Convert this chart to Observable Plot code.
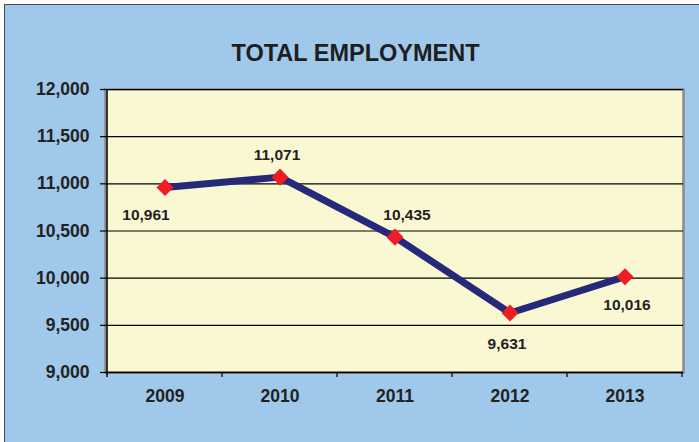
<!DOCTYPE html>
<html>
<head>
<meta charset="utf-8">
<script src="https://cdn.jsdelivr.net/npm/d3@7"></script>
<script src="https://cdn.jsdelivr.net/npm/@observablehq/plot@0.6"></script>
<style>
  html, body { margin: 0; padding: 0; background: #ffffff; width: 699px; height: 442px; overflow: hidden; }
  #chart { position: absolute; left: 4px; top: 4px; width: 694px; height: 437px;
           background: #9FC8EA; border-top: 1px solid #4a4a4a; border-left: 1px solid #4a4a4a; }
  #chart svg { display: block; }
</style>
</head>
<body>
<div id="chart"></div>
<script>
const years = ["2009", "2010", "2011", "2012", "2013"];
const employment = [10961, 11071, 10435, 9631, 10016];
const labelDx = [-19, -3, 12, -3, 2];
const labelDy = [28, -22, -22, 31, 28];
const yTicks = [9000, 9500, 10000, 10500, 11000, 11500, 12000];
const title = "TOTAL EMPLOYMENT";

const data = years.map((y, i) => ({year: y, value: employment[i], dx: labelDx[i], dy: labelDy[i]}));
const font = "'Liberation Sans', Arial, sans-serif";
const fmt = d3.format(",");

const labelMarks = data.map(d => Plot.text([d], {
  x: "year", y: "value", text: v => fmt(v.value),
  dx: d.dx, dy: d.dy, fontSize: 15.5, fontWeight: "bold", fill: "#222", fontFamily: font
}));

const chart = Plot.plot({
  width: 694,
  height: 437,
  marginLeft: 100,
  marginRight: 16,
  marginTop: 84,
  marginBottom: 70,
  style: { background: "transparent", fontFamily: font, overflow: "visible" },
  x: { type: "band", domain: years, padding: 0, label: null },
  y: { domain: [9000, 12000], label: null },
  marks: [
    Plot.frame({ fill: "#FAF8D2", stroke: "#8a8a8a", strokeWidth: 2.5 }),
    Plot.gridY(yTicks, { stroke: "#000", strokeOpacity: 1, strokeWidth: 1.2 }),
    Plot.ruleY([9000], { stroke: "#000", strokeWidth: 1.5 }),
    Plot.axisY(yTicks, { tickFormat: fmt, tickSize: 5, tickPadding: 11, fontSize: 17.5, fontWeight: "bold",
      fill: "#222", stroke: "#000", strokeWidth: 1.2, label: null }),
    Plot.axisX({ tickSize: 0, tickPadding: 17, fontSize: 17.5, fontWeight: "bold", fill: "#222", label: null }),
    Plot.line(data, { x: "year", y: "value", stroke: "#26297A", strokeWidth: 7, strokeLinejoin: "miter" }),
    Plot.dot(data, { x: "year", y: "value", symbol: "square", r: 6.8, rotate: 45, fill: "#EE1C25", stroke: "none" }),
    ...labelMarks,
    Plot.text([title], { frameAnchor: "top", dx: -39, dy: -45, fontSize: 23.5, fontWeight: "bold", fill: "#1e1e1e", fontFamily: font })
  ]
});

document.getElementById("chart").appendChild(chart);

// left vertical axis line and x band boundary ticks, positioned via the chart's own scales
const xs = chart.scale("x"), ys = chart.scale("y");
const svg = d3.select(chart);
const yBottom = ys.apply(9000), yTop = ys.apply(12000);
const left = xs.apply(years[0]);
const bw = xs.bandwidth;
svg.append("line").attr("x1", left).attr("x2", left).attr("y1", yTop).attr("y2", yBottom + 5)
  .attr("stroke", "#000").attr("stroke-width", 1.5);
years.forEach((y) => {
  const xb = xs.apply(y) + bw;
  svg.append("line").attr("x1", xb).attr("x2", xb).attr("y1", yBottom).attr("y2", yBottom + 5)
    .attr("stroke", "#000").attr("stroke-width", 1.2);
});
</script>
</body>
</html>
